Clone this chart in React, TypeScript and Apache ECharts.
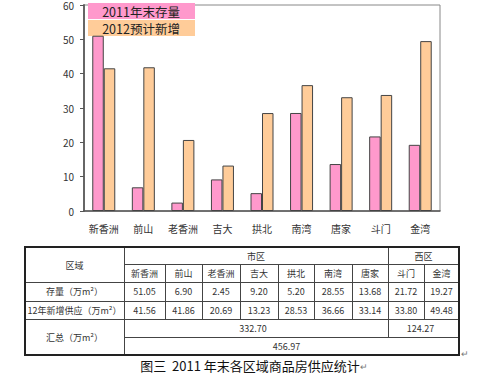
import React, { useEffect, useRef } from "react";
import * as echarts from "echarts";

const categories = ["新香洲", "前山", "老香洲", "吉大", "拱北", "南湾", "唐家", "斗门", "金湾"];
const stock2011 = [51.05, 6.9, 2.45, 9.2, 5.2, 28.55, 13.68, 21.72, 19.27];
const new2012 = [41.56, 41.86, 20.69, 13.23, 28.53, 36.66, 33.14, 33.8, 49.48];
const seriesNames = ["2011年末存量", "2012预计新增"];
const groupNames = ["市区", "西区"];
const groupSizes = [7, 2];
const rowLabels = ["区域", "存量（万m²）", "12年新增供应（万m²）", "汇总（万m²）"];
const caption = "图三  2011 年末各区域商品房供应统计";

const FONT = "'Noto Sans CJK SC', 'Noto Sans', sans-serif";
const PINK = "#FF99CC";
const ORANGE = "#FFCC99";

// table layout (pixels)
const colX = [25, 124, 165, 202, 240, 278, 314, 352, 388, 424, 459];
const rowY = [247, 264, 282, 301, 319, 337, 355];

function buildTable(): any[] {
  const els: any[] = [];
  const line = (x1: number, y1: number, x2: number, y2: number, w = 1, c = "#444") =>
    els.push({
      type: "line",
      silent: true,
      shape: { x1, y1, x2, y2 },
      style: { stroke: c, lineWidth: w },
    });
  const text = (t: string, x: number, y: number, size = 9, color = "#333") =>
    els.push({
      type: "text",
      silent: true,
      x,
      y,
      style: {
        text: t,
        fontSize: size,
        lineHeight: size + 2,
        fontFamily: FONT,
        fill: color,
        align: "center",
        verticalAlign: "middle",
      },
    });
  const L = colX[0];
  const R = colX[colX.length - 1];
  const first = colX[1];
  // horizontal lines
  line(first, rowY[1] + 0.5, R, rowY[1] + 0.5);
  line(L, rowY[2] + 0.5, R, rowY[2] + 0.5);
  line(L, rowY[3] + 0.5, R, rowY[3] + 0.5);
  line(L, rowY[4] + 0.5, R, rowY[4] + 0.5);
  line(first, rowY[5] + 0.5, R, rowY[5] + 0.5);
  // vertical lines
  line(first + 0.5, rowY[0], first + 0.5, rowY[6]);
  const groupBoundary = colX[1 + groupSizes[0]];
  line(groupBoundary + 0.5, rowY[0], groupBoundary + 0.5, rowY[5]);
  for (let i = 2; i < colX.length - 1; i++) {
    if (colX[i] === groupBoundary) continue;
    line(colX[i] + 0.5, rowY[1], colX[i] + 0.5, rowY[4]);
  }
  // outer border
  els.push({
    type: "rect",
    silent: true,
    shape: { x: L, y: rowY[0], width: R - L, height: rowY[6] - rowY[0] },
    style: { fill: "none", stroke: "#222", lineWidth: 2 },
  });

  const cx = (i: number) => (colX[i + 1] + colX[i + 2]) / 2;
  const labelX = (L + first) / 2;
  text(rowLabels[0], labelX, (rowY[0] + rowY[2]) / 2 + 1);
  text(rowLabels[1], labelX, (rowY[2] + rowY[3]) / 2);
  text(rowLabels[2], labelX, (rowY[3] + rowY[4]) / 2);
  text(rowLabels[3], labelX, (rowY[4] + rowY[6]) / 2);

  // groups
  let start = 0;
  const groupTotals: number[] = [];
  groupNames.forEach((g, gi) => {
    const end = start + groupSizes[gi];
    const x1 = colX[1 + start];
    const x2 = colX[1 + end];
    text(g, (x1 + x2) / 2, (rowY[0] + rowY[1]) / 2 + 1);
    let sum = 0;
    for (let k = start; k < end; k++) sum += stock2011[k] + new2012[k];
    groupTotals.push(sum);
    text(sum.toFixed(2), (x1 + x2) / 2 - 3, (rowY[4] + rowY[5]) / 2);
    start = end;
  });
  categories.forEach((c, i) => {
    text(c, cx(i), (rowY[1] + rowY[2]) / 2);
    text(stock2011[i].toFixed(2), cx(i), (rowY[2] + rowY[3]) / 2);
    text(new2012[i].toFixed(2), cx(i), (rowY[3] + rowY[4]) / 2);
  });
  const total = groupTotals.reduce((a, b) => a + b, 0);
  text(total.toFixed(2), (first + R) / 2 - 5, (rowY[5] + rowY[6]) / 2);

  // caption
  els.push({
    type: "text",
    silent: true,
    x: 250,
    y: 365,
    style: {
      text: caption,
      fontSize: 13,
      lineHeight: 15,
      fontFamily: FONT,
      fill: "#111",
      align: "center",
      verticalAlign: "middle",
    },
  });
  text("↵", 364, 366, 9, "#777");
  text("↵", 465, 353, 9, "#777");
  return els;
}

function buildLegend(): any[] {
  const els: any[] = [];
  const colors = [PINK, ORANGE];
  const tops = [3, 20];
  seriesNames.forEach((n, i) => {
    els.push({
      type: "rect",
      silent: true,
      shape: { x: 88, y: tops[i], width: 107, height: 16 },
      style: { fill: colors[i] },
    });
    els.push({
      type: "text",
      silent: true,
      x: 141,
      y: tops[i] + 8.5,
      style: {
        text: n,
        fontSize: 12.5,
        lineHeight: 13,
        fontFamily: FONT,
        fill: "#222",
        align: "center",
        verticalAlign: "middle",
      },
    });
  });
  return els;
}

export default function App() {
  const ref = useRef<HTMLDivElement>(null);
  useEffect(() => {
    if (!ref.current) return;
    const chart = echarts.init(ref.current, undefined, { renderer: "svg" });
    chart.setOption({
      animation: false,
      backgroundColor: "#ffffff",
      grid: {
        left: 84,
        right: 43,
        top: 4,
        bottom: 163,
        show: true,
        borderColor: "#888",
        borderWidth: 1,
        backgroundColor: "transparent",
      },
      xAxis: {
        type: "category",
        data: categories,
        axisLine: { lineStyle: { color: "#555", width: 1.5 } },
        axisTick: { inside: true, length: 3, lineStyle: { color: "#555" } },
        axisLabel: { fontSize: 10, color: "#333", margin: 12, fontFamily: FONT },
      },
      yAxis: {
        type: "value",
        min: 0,
        max: 60,
        interval: 10,
        axisLine: { show: true, lineStyle: { color: "#666", width: 2 } },
        axisTick: { show: true, length: 4, lineStyle: { color: "#555" } },
        axisLabel: { fontSize: 10, lineHeight: 10, color: "#333", margin: 10, fontFamily: FONT },
        splitLine: { show: false },
      },
      series: [
        {
          name: seriesNames[0],
          type: "bar",
          data: stock2011,
          barWidth: 11.5,
          barGap: "0%",
          itemStyle: { color: PINK, borderColor: "#444", borderWidth: 1 },
        },
        {
          name: seriesNames[1],
          type: "bar",
          data: new2012,
          barWidth: 11.5,
          barGap: "0%",
          itemStyle: { color: ORANGE, borderColor: "#444", borderWidth: 1 },
        },
      ],
      graphic: [...buildLegend(), ...buildTable()],
    });
    return () => chart.dispose();
  }, []);
  return (
    <div
      ref={ref}
      style={{ position: "absolute", left: 0, top: 0, width: 483, height: 374, background: "#fff" }}
    />
  );
}
